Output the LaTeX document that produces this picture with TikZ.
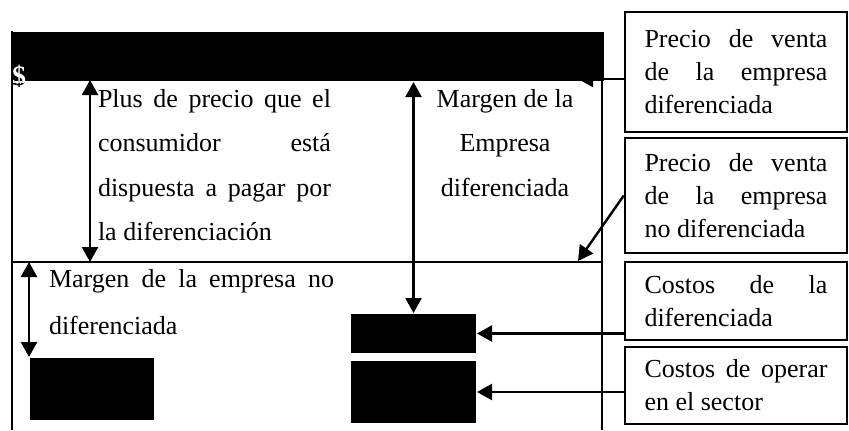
\documentclass[tikz,border=0pt]{standalone}
\usepackage{fontspec}
\setmainfont{Liberation Serif}
\usetikzlibrary{arrows.meta}

\begin{document}
\begin{tikzpicture}[x=0.5pt, y=-0.5pt, line width=1pt, >={Triangle[length=7.5pt, width=8pt]}]
        % Definición de estilos
        \tikzstyle{bloqueNegro} = [rectangle, fill=black, draw=none, inner sep=0pt]
        \tikzstyle{cajaEtiqueta} = [draw, rectangle, line width=1.2pt, minimum width=111pt, text width=91.5pt, inner xsep=9.75pt, align=justify, font=\fontsize{13}{16.5}\selectfont]
        \tikzstyle{textoMarco} = [inner sep=0pt, font=\fontsize{13}{22.3}\selectfont]
        \tikzstyle{signo} = [inner sep=0pt, font=\fontsize{14}{14}\selectfont\bfseries]
        \tikzstyle{flecha} = [line width=1.2pt]

        \useasboundingbox (0,0) rectangle (849,430);

        % Barra del precio de venta diferenciado
        \node[bloqueNegro, anchor=north west, minimum width=295.5pt, minimum height=24.5pt] (barraPrecio) at (12,31) {};

        % Marco y nivel del precio no diferenciado
        \draw (barraPrecio.north west) -- (12,430);
        \draw (602,80) -- (602,430);
        \draw (12,262) -- (602,262);

        % Signo de pesos
        \node[signo] (signoPeso) at (19,76) {\$};
        \begin{scope}
          \clip (barraPrecio.north west) rectangle (barraPrecio.south east);
          \node[signo, text=white] at (19,76) {\$};
        \end{scope}

        % Bloques de costos
        \node[bloqueNegro, minimum width=62.5pt, minimum height=19.5pt] (costoDif) at (413.5,333.5) {};
        \node[bloqueNegro, minimum width=62.5pt, minimum height=31pt] (costoOper) at (413.5,392) {};
        \node[bloqueNegro, minimum width=62pt, minimum height=31pt] (costoBase) at (92,389) {};

        % Textos del marco
        \node[textoMarco, text width=116.5pt, align=justify, anchor=north west] (txtPlus) at (97,88)
          {Plus de precio que el\linebreak consumidor está\linebreak dispuesta a pagar por\linebreak la diferenciación};
        \node[textoMarco, align=center, anchor=north] (txtMargenDif) at (505,88)
          {Margen de la\\Empresa\\diferenciada};
        \node[textoMarco, font=\fontsize{13}{23.5}\selectfont, text width=142.5pt, align=justify, anchor=north west] (txtMargenNoDif) at (48,268)
          {Margen de la empresa no\linebreak diferenciada};

        % Etiquetas de la derecha
        \node[cajaEtiqueta, minimum height=60pt] (etqPrecioDif) at (736,72) {Precio de venta\linebreak de la empresa\linebreak diferenciada};
        \node[cajaEtiqueta, minimum height=57.5pt] (etqPrecioNoDif) at (736,195.5) {Precio de venta\linebreak de la empresa\linebreak no diferenciada};
        \node[cajaEtiqueta, minimum height=39pt] (etqCostoDif) at (736,301) {Costos de la\linebreak diferenciada};
        \node[cajaEtiqueta, minimum height=38.5pt] (etqCostoOper) at (736,385.5) {Costos de operar\linebreak en el sector};

        % Flechas verticales
        \coordinate (plusSup) at (90,80);
        \coordinate (plusInf) at (90,262);
        \coordinate (margenSup) at (29,262);
        \coordinate (margenInf) at (29,357);
        \draw[flecha, <->] (plusSup) -- (plusInf);
        \draw[flecha, <->] (costoDif.north |- barraPrecio.south) -- (costoDif.north);
        \draw[flecha, <->] (margenSup) -- (margenInf);

        % Flechas de las etiquetas
        \coordinate (puntaDif) at (578,79);
        \coordinate (puntaNoDif) at (578,261);
        \draw[flecha, ->] (etqPrecioDif.west |- puntaDif) -- (puntaDif);
        \draw[flecha, ->] (etqPrecioNoDif.west) -- (puntaNoDif);
        \draw[flecha, ->] (etqCostoDif.west |- costoDif.east) -- (costoDif.east);
        \draw[flecha, ->] (etqCostoOper.west |- costoOper.east) -- (costoOper.east);
    \end{tikzpicture}
\end{document}
